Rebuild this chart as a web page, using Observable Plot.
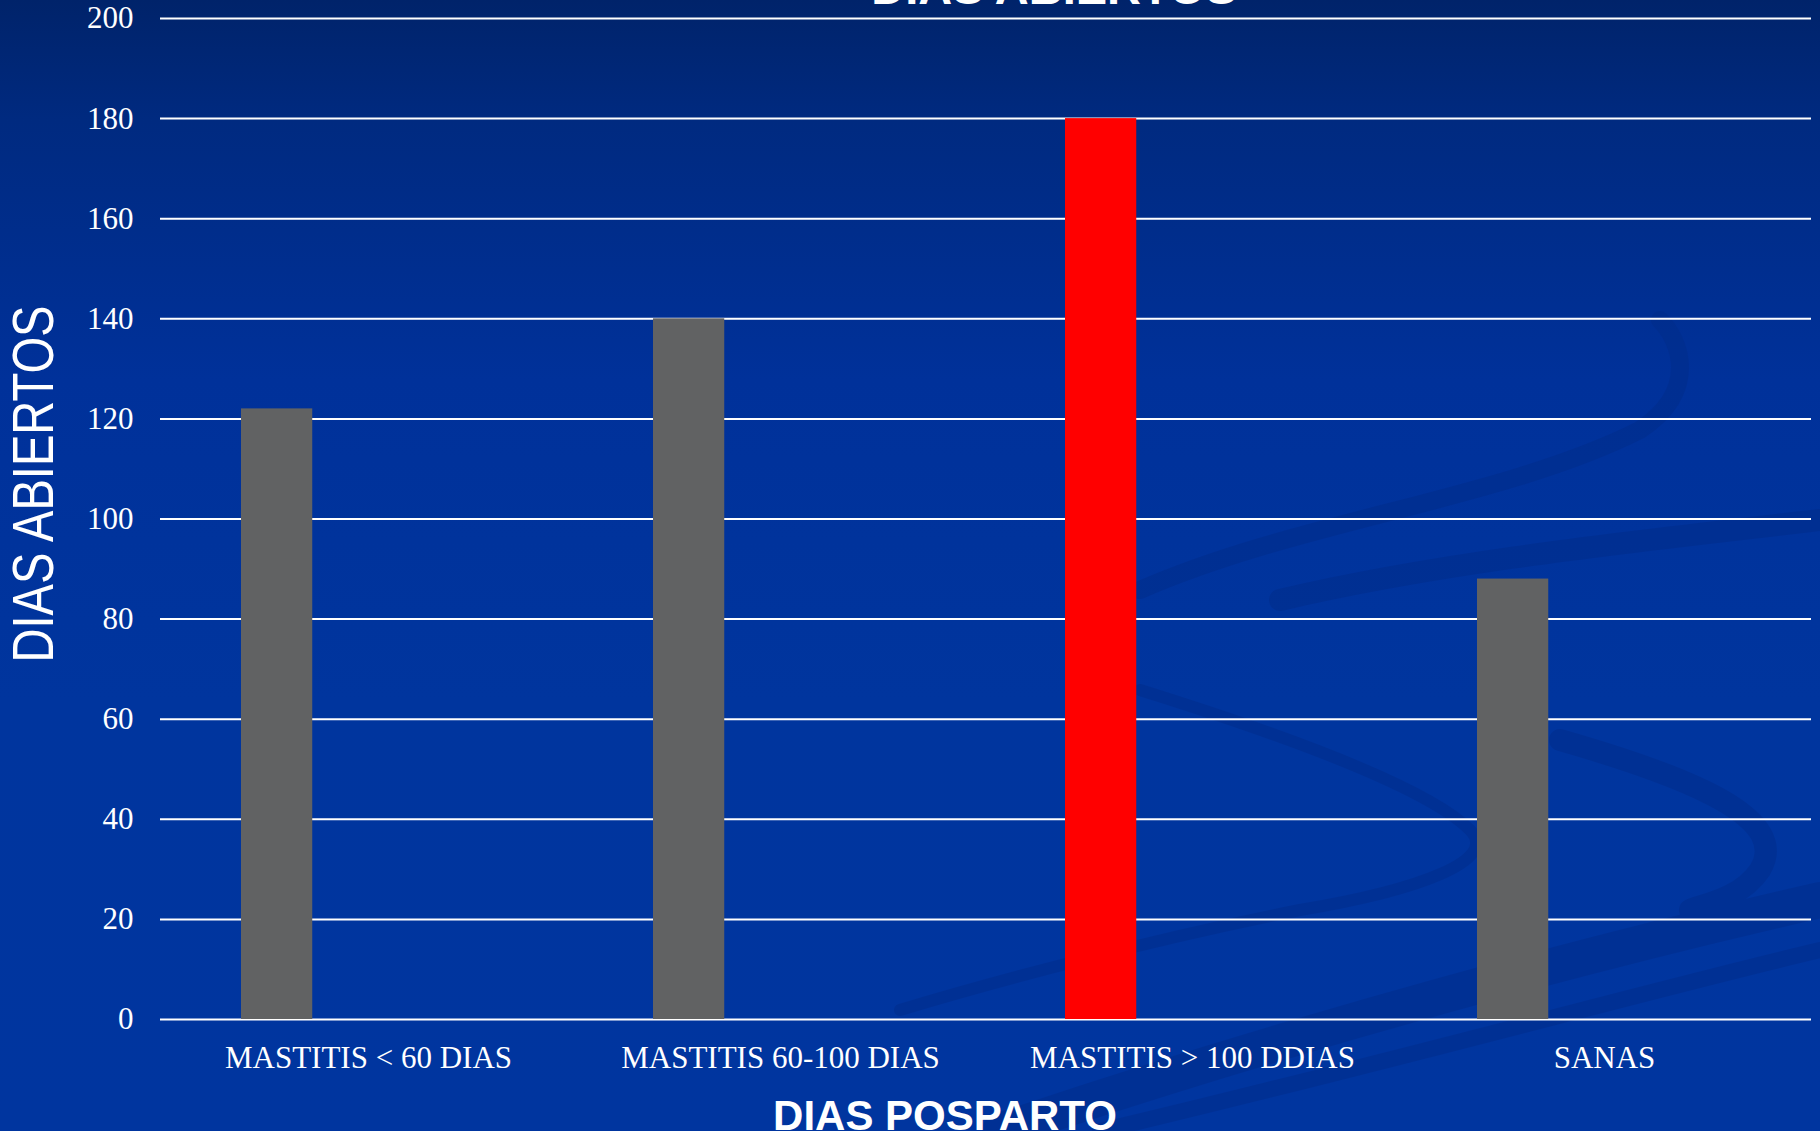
<!DOCTYPE html>
<html>
<head>
<meta charset="utf-8">
<script src="https://cdn.jsdelivr.net/npm/d3@7"></script>
<script src="https://cdn.jsdelivr.net/npm/@observablehq/plot@0.6"></script>
<style>
  html, body { margin: 0; padding: 0; width: 1820px; height: 1131px; overflow: hidden; }
  body { background: linear-gradient(to bottom, #00236a 0px, #002a80 120px, #00319a 380px, #00359e 700px, #00359f 1131px); position: relative; }
  #deco { position: absolute; left: 0; top: 0; }
  #chart { position: absolute; left: 0; top: 0; }
  #chart svg { background: transparent; }
</style>
</head>
<body>
<svg id="deco" width="1820" height="1131" viewBox="0 0 1820 1131">
  <g fill="none" stroke="#002c88" stroke-linecap="round" opacity="0.45">
    <path d="M 1140 590 C 1300 520, 1500 500, 1640 430 C 1700 390, 1680 340, 1660 320" stroke-width="18"/>
    <path d="M 1280 600 C 1450 560, 1650 540, 1820 520" stroke-width="22"/>
    <path d="M 1140 690 C 1300 740, 1430 790, 1470 830 C 1500 860, 1420 890, 1300 910 C 1150 940, 1000 980, 900 1010" stroke-width="12"/>
    <path d="M 1560 740 C 1700 780, 1790 820, 1760 870 C 1740 900, 1700 905, 1690 910" stroke-width="22"/>
    <path d="M 1000 1131 C 1300 1030, 1600 950, 1820 900" stroke-width="36"/>
    <path d="M 1100 1131 C 1400 1060, 1650 990, 1820 950" stroke-width="16"/>
  </g>
</svg>
<div id="chart"></div>
<script>
const categories = ["MASTITIS < 60 DIAS", "MASTITIS 60-100 DIAS", "MASTITIS > 100 DDIAS", "SANAS"];
const values = [122, 140, 180, 88];
const barColors = ["#616263", "#616263", "#ff0000", "#616263"];
const yTicks = [0, 20, 40, 60, 80, 100, 120, 140, 160, 180, 200];
const chartTitle = "DIAS ABIERTOS";
const yTitle = "DIAS ABIERTOS";
const xTitle = "DIAS POSPARTO";

const data = categories.map((c, i) => ({ category: c, value: values[i], color: barColors[i] }));

const serif = "'Liberation Serif', 'Times New Roman', serif";
const sans = "'Liberation Sans', Arial, sans-serif";

const plot = Plot.plot({
  width: 1820,
  height: 1131,
  marginLeft: 160,
  marginRight: 9,
  marginTop: 18,
  marginBottom: 112,
  style: { background: "transparent", color: "white", fontFamily: serif, fontSize: "31px", overflow: "visible" },
  x: { domain: categories, padding: 0, label: null },
  y: { domain: [0, 200], label: null },
  marks: [
    Plot.ruleY(yTicks, { stroke: "white", strokeWidth: 2 }),
    Plot.barY(data, { x: "category", y: "value", fill: "color", insetLeft: 79, insetRight: 261.75 }),
    Plot.axisY({ ticks: yTicks, tickSize: 0, tickPadding: 27, fill: "white", fontSize: 31, fontFamily: serif, label: null }),
    Plot.axisX({ tickSize: 0, tickPadding: 26, fill: "white", fontSize: 31, fontFamily: serif, label: null }),
    Plot.text([yTitle], { frameAnchor: "left", rotate: -90, dx: -126, dy: -35, fill: "white", fontSize: 58, fontFamily: sans, textAnchor: "middle", lineAnchor: "middle", className: "ytitle" }),
    Plot.text([xTitle], { frameAnchor: "bottom", dx: -41, dy: 110, fill: "white", fontSize: 42, fontWeight: "bold", fontFamily: sans, textAnchor: "middle", lineAnchor: "bottom" }),
    Plot.text([chartTitle], { frameAnchor: "top", dx: 68, dy: -15, fill: "white", fontSize: 47, fontWeight: "bold", fontFamily: sans, textAnchor: "middle", lineAnchor: "bottom" })
  ]
});
document.getElementById("chart").appendChild(plot);
const yt = plot.querySelector("g.ytitle text, .ytitle text");
if (yt) { yt.setAttribute("textLength", "357"); yt.setAttribute("lengthAdjust", "spacingAndGlyphs"); }
</script>
</body>
</html>
